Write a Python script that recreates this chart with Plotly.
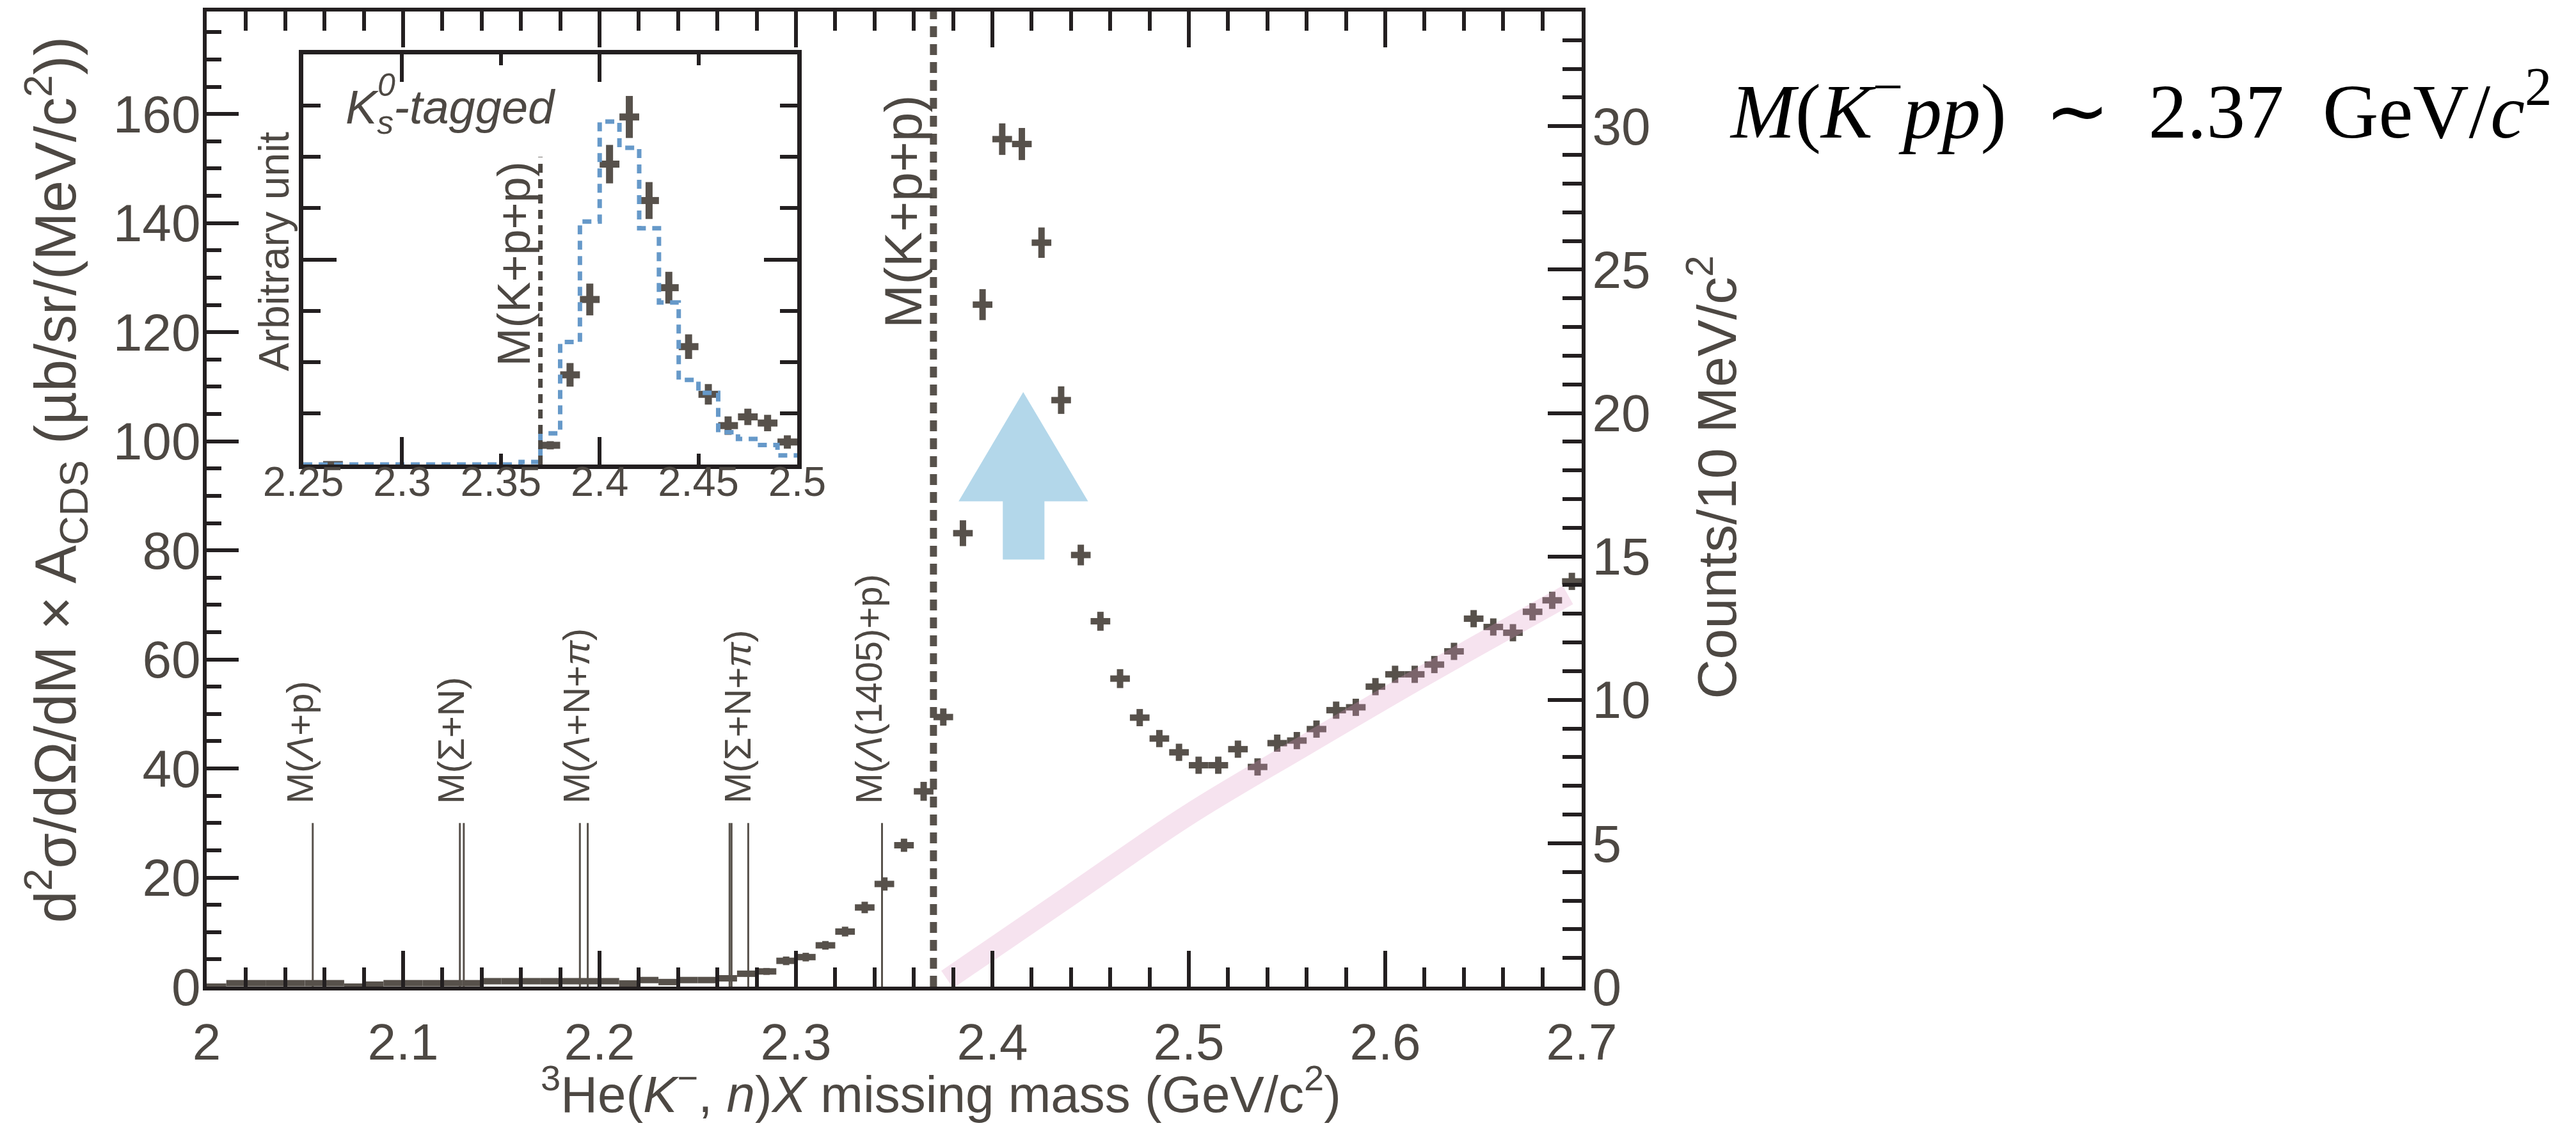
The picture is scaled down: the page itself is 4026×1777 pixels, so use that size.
import plotly.graph_objects as go

FIG_W, FIG_H = 4026, 1777
INK = "#57514b"
TXT = "#4d4843"
AX = "#231f20"
SANS = "Liberation Sans, Arial, Helvetica, sans-serif"
SERIF = "Liberation Serif, Times New Roman, serif"

# ---------------- main spectrum (Counts / 10 MeV/c^2) ----------------
mass = [2.005, 2.015, 2.025, 2.035, 2.045, 2.055, 2.065, 2.075, 2.085, 2.095,
        2.105, 2.115, 2.125, 2.135, 2.145, 2.155, 2.165, 2.175, 2.185, 2.195,
        2.205, 2.215, 2.225, 2.235, 2.245, 2.255, 2.265, 2.275, 2.285, 2.295,
        2.305, 2.315, 2.325, 2.335, 2.345, 2.355, 2.365, 2.375, 2.385, 2.395,
        2.405, 2.415, 2.425, 2.435, 2.445, 2.455, 2.465, 2.475, 2.485, 2.495,
        2.505, 2.515, 2.525, 2.535, 2.545, 2.555, 2.565, 2.575, 2.585, 2.595,
        2.605, 2.615, 2.625, 2.635, 2.645, 2.655, 2.665, 2.675, 2.685, 2.695]
counts = [0.00, 0.12, 0.12, 0.12, 0.12, 0.12, 0.12, 0.00, 0.07, 0.12,
          0.12, 0.12, 0.12, 0.12, 0.19, 0.19, 0.19, 0.19, 0.19, 0.19,
          0.19, 0.11, 0.23, 0.16, 0.23, 0.23, 0.29, 0.45, 0.53, 0.90,
          1.03, 1.44, 1.92, 2.76, 3.58, 4.93, 6.81, 9.40, 15.81, 23.78,
          29.55, 29.38, 25.94, 20.45, 15.05, 12.74, 10.74, 9.38, 8.65, 8.17,
          7.72, 7.72, 8.28, 7.66, 8.49, 8.58, 8.98, 9.64, 9.74, 10.46,
          10.89, 10.89, 11.23, 11.69, 12.83, 12.54, 12.34, 13.07, 13.47, 14.13]
counts_err = [0.05, 0.05, 0.05, 0.05, 0.05, 0.05, 0.05, 0.05, 0.05, 0.05,
              0.05, 0.05, 0.05, 0.05, 0.05, 0.05, 0.05, 0.05, 0.05, 0.05,
              0.05, 0.05, 0.08, 0.08, 0.08, 0.08, 0.10, 0.10, 0.12, 0.15,
              0.15, 0.15, 0.17, 0.20, 0.23, 0.23, 0.33, 0.30, 0.45, 0.54,
              0.55, 0.56, 0.53, 0.48, 0.36, 0.33, 0.33, 0.30, 0.30, 0.30,
              0.30, 0.30, 0.30, 0.30, 0.30, 0.30, 0.30, 0.30, 0.30, 0.30,
              0.30, 0.30, 0.30, 0.30, 0.30, 0.30, 0.30, 0.30, 0.30, 0.30]
bin_half = 0.005

# background band (pink)
band_x = [2.377, 2.44, 2.50, 2.56, 2.62, 2.693]
band_y = [0.25, 3.20, 6.00, 8.45, 10.85, 13.66]

# thresholds
kpp_threshold = 2.370
thr_x = [2.054, 2.1289, 2.1309, 2.1900, 2.1940, 2.2662, 2.2672, 2.2757, 2.3438]
thr_height = 30
thr_labels = ["M(<i>Λ</i>+p)", "M(Σ+N)", "M(<i>Λ</i>+N+<i>π</i>)",
              "M(Σ+N+<i>π</i>)", "M(<i>Λ</i>(1405)+p)"]
thr_label_x = [2.0472, 2.1244, 2.1879, 2.2704, 2.3371]
thr_label_y = 33.3

# arrow (counts units)
arrow_x = [2.3828, 2.4157, 2.4487, 2.4265, 2.4265, 2.4053, 2.4053]
arrow_y = [16.92, 20.73, 16.92, 16.92, 14.89, 14.89, 16.92]

# axis ticks
main_x_ticks = [2.0, 2.1, 2.2, 2.3, 2.4, 2.5, 2.6, 2.7]
main_x_text = ["2", "2.1", "2.2", "2.3", "2.4", "2.5", "2.6", "2.7"]
left_ticks = [0, 20, 40, 60, 80, 100, 120, 140, 160]
right_ticks = [0, 5, 10, 15, 20, 25, 30]

# ---------------- inset (K0s-tagged) ----------------
inset_mass = [2.265, 2.375, 2.385, 2.395, 2.405, 2.415, 2.425, 2.435, 2.445,
              2.455, 2.465, 2.475, 2.485, 2.495]
inset_val = [0.0, 0.376, 1.75, 3.22, 5.86, 6.78, 5.15, 3.45, 2.30,
             1.37, 0.76, 0.93, 0.81, 0.44]
inset_err = [0.0, 0.08, 0.23, 0.31, 0.375, 0.41, 0.36, 0.31, 0.24,
             0.20, 0.18, 0.16, 0.16, 0.13]
sim_centers = [2.255, 2.265, 2.275, 2.285, 2.295, 2.305, 2.315, 2.325, 2.335,
               2.345, 2.355, 2.365, 2.375, 2.385, 2.395, 2.405, 2.415, 2.425,
               2.435, 2.445, 2.455, 2.465, 2.475, 2.485, 2.495]
sim_vals = [0, 0, 0, 0, 0, 0, 0, 0, 0, 0, 0, 0.05, 0.61, 2.39, 4.74, 6.69, 6.18,
            4.61, 3.16, 1.65, 1.40, 0.63, 0.50, 0.38, 0.18]
inset_x_ticks = [2.25, 2.3, 2.35, 2.4, 2.45, 2.5]
inset_x_text = ["2.25", "2.3", "2.35", "2.4", "2.45", "2.5"]
inset_x_long = [2.3, 2.4, 2.5]

sim_x = [c - bin_half for c in sim_centers] + [sim_centers[-1] + bin_half]
sim_y = sim_vals + [sim_vals[-1]]

fig = go.Figure()

fig.add_trace(go.Scatter(
    x=mass, y=counts, xaxis="x", yaxis="y2", mode="markers",
    marker=dict(size=1, color="rgba(0,0,0,0)"),
    error_y=dict(type="data", array=counts_err, color=INK, thickness=10, width=0),
    error_x=dict(type="constant", value=bin_half, color=INK, thickness=10, width=0),
    showlegend=False, hoverinfo="skip"))

fig.add_trace(go.Scatter(
    x=band_x, y=band_y, xaxis="x", yaxis="y2", mode="lines",
    line=dict(color="rgba(222,151,195,0.27)", width=33, shape="spline"),
    showlegend=False, hoverinfo="skip"))

fig.add_trace(go.Scatter(
    x=sim_x, y=sim_y, xaxis="x4", yaxis="y3", mode="lines",
    line=dict(color="#6699c9", width=7, shape="hv", dash="14px,10px"),
    showlegend=False, hoverinfo="skip"))

fig.add_trace(go.Scatter(
    x=inset_mass, y=inset_val, xaxis="x3", yaxis="y3", mode="markers",
    marker=dict(size=1, color="rgba(0,0,0,0)"),
    error_y=dict(type="data", array=inset_err, color=INK, thickness=11, width=0),
    error_x=dict(type="constant", value=bin_half, color=INK, thickness=11, width=0),
    showlegend=False, hoverinfo="skip"))

shapes = []
shapes.append(dict(type="line", xref="x", yref="paper", x0=kpp_threshold, x1=kpp_threshold,
                   y0=0, y1=1, line=dict(color=INK, width=11, dash="17px,11px")))
for tx in thr_x:
    shapes.append(dict(type="line", xref="x", yref="y", x0=tx, x1=tx, y0=0, y1=thr_height,
                       line=dict(color=INK, width=3)))
shapes.append(dict(type="line", xref="x3", yref="y3", x0=kpp_threshold, x1=kpp_threshold,
                   y0=0, y1=6, line=dict(color="#4d4843", width=7, dash="14px,10px")))
path = "M " + " L ".join(f"{ax},{ay}" for ax, ay in zip(arrow_x, arrow_y)) + " Z"
shapes.append(dict(type="path", xref="x", yref="y2", path=path,
                   fillcolor="#b3d7ea", line=dict(width=0)))

NB = "\u00a0"
annotations = []
annotations.append(dict(text="M(K+p+p)", x=kpp_threshold, xref="x", y=0.916, yref="paper",
                        xanchor="right", yanchor="top", textangle=-90, showarrow=False,
                        font=dict(family=SANS, size=82, color=TXT)))
for lab, lx in zip(thr_labels, thr_label_x):
    annotations.append(dict(text=lab, x=lx, xref="x", y=thr_label_y, yref="y",
                            xanchor="center", yanchor="bottom", textangle=-90, showarrow=False,
                            font=dict(family=SANS, size=58, color=TXT)))
annotations.append(dict(text="M(K+p+p)", x=kpp_threshold, xref="x3", y=5.93, yref="y3",
                        xanchor="right", yanchor="top", textangle=-90, showarrow=False,
                        font=dict(family=SANS, size=72, color=TXT)))
annotations.append(dict(text="<i>K<sub>s</sub>-tagged</i>", x=0.083, xref="x3 domain",
                        y=0.8625, yref="y3 domain", xanchor="left", yanchor="middle",
                        showarrow=False, font=dict(family=SANS, size=74, color=TXT)))
annotations.append(dict(text="<i>0</i>", x=0.168, xref="x3 domain",
                        y=0.925, yref="y3 domain", xanchor="center", yanchor="middle",
                        showarrow=False, font=dict(family=SANS, size=50, color=TXT)))
annotations.append(dict(text="Arbitrary unit", x=0.0489, xref="paper", y=0.754, yref="paper",
                        xanchor="center", yanchor="middle", textangle=-90, showarrow=False,
                        font=dict(family=SANS, size=66, color=TXT)))
annotations.append(dict(text="d<sup>2</sup>σ/dΩ/dM × A<sub>CDS</sub> (µb/sr/(MeV/c<sup>2</sup>))",
                        x=-0.1098, xref="paper", y=0.52, yref="paper",
                        xanchor="center", yanchor="middle", textangle=-90, showarrow=False,
                        font=dict(family=SANS, size=90, color=TXT)))
annotations.append(dict(text="<sup>3</sup>He(<i>K</i><sup>−</sup>, <i>n</i>)<i>X</i> missing mass (GeV/c<sup>2</sup>)",
                        x=0.534, xref="paper", y=-0.1064, yref="paper",
                        xanchor="center", yanchor="middle", showarrow=False,
                        font=dict(family=SANS, size=80, color=TXT)))
annotations.append(dict(text="Counts/10 MeV/c<sup>2</sup>", x=1.0954, xref="paper",
                        y=0.522, yref="paper", xanchor="center", yanchor="middle",
                        textangle=-90, showarrow=False,
                        font=dict(family=SANS, size=86, color=TXT)))
annotations.append(dict(text=f"<i>M</i>(<i>K</i><sup>−</sup><i>pp</i>){NB}{NB}∼{NB}{NB}2.37{NB}{NB}GeV/<i>c</i><sup>2</sup>",
                        x=1.1066, xref="paper", y=0.9035, yref="paper",
                        xanchor="left", yanchor="middle", showarrow=False,
                        font=dict(family=SERIF, size=121, color="#000000")))

fig.update_layout(
    width=FIG_W, height=FIG_H,
    margin=dict(l=323, r=FIG_W - 2472, t=18, b=FIG_H - 1542, pad=0),
    paper_bgcolor="white", plot_bgcolor="white",
    showlegend=False,
    shapes=shapes, annotations=annotations,
    xaxis=dict(domain=[0, 1], anchor="y", range=[2.0, 2.7],
               tickmode="array", tickvals=main_x_ticks, ticktext=main_x_text,
               ticks="inside", ticklen=56, tickwidth=6, tickcolor=AX,
               minor=dict(dtick=0.02, tick0=2.0, ticks="inside", ticklen=30,
                          tickwidth=6, tickcolor=AX, showgrid=False),
               showline=True, linewidth=6, linecolor=AX, mirror="ticks",
               showgrid=False, zeroline=False, ticklabelstandoff=12,
               tickfont=dict(family=SANS, size=80, color=TXT)),
    yaxis=dict(domain=[0, 1], anchor="x", range=[0, 178.8],
               tickmode="array", tickvals=left_ticks,
               ticks="inside", ticklen=50, tickwidth=6, tickcolor=AX,
               minor=dict(dtick=5, tick0=0, ticks="inside", ticklen=23,
                          tickwidth=6, tickcolor=AX, showgrid=False),
               showline=True, linewidth=6, linecolor=AX, mirror=False,
               showgrid=False, zeroline=False, ticklabelstandoff=-13,
               tickfont=dict(family=SANS, size=82, color=TXT)),
    yaxis2=dict(overlaying="y", side="right", anchor="x", range=[0, 34.0],
                tickmode="array", tickvals=right_ticks,
                ticks="inside", ticklen=53, tickwidth=6, tickcolor=AX,
                minor=dict(dtick=1, tick0=0, ticks="inside", ticklen=30,
                           tickwidth=6, tickcolor=AX, showgrid=False),
                showline=True, linewidth=6, linecolor=AX,
                showgrid=False, zeroline=False, ticklabelstandoff=-6,
                tickfont=dict(family=SANS, size=82, color=TXT)),
    xaxis3=dict(domain=[0.0703, 0.4295], anchor="y3", range=[2.25, 2.5],
                tickmode="array", tickvals=inset_x_ticks, ticktext=inset_x_text,
                ticks="inside", ticklen=17, tickwidth=6, tickcolor=AX,
                showline=True, linewidth=7, linecolor=AX, mirror="ticks",
                showgrid=False, zeroline=False, ticklabelstandoff=-36,
                tickfont=dict(family=SANS, size=65, color=TXT)),
    xaxis4=dict(overlaying="x3", anchor="y3", range=[2.25, 2.5],
                tickmode="array", tickvals=inset_x_long, showticklabels=False,
                ticks="inside", ticklen=43, tickwidth=6, tickcolor=AX,
                showline=False, mirror="ticks",
                showgrid=False, zeroline=False),
    yaxis3=dict(domain=[0.5354, 0.956], anchor="x3", range=[0, 8],
                tickmode="array", tickvals=[0, 4, 8], showticklabels=False,
                ticks="inside", ticklen=52, tickwidth=6, tickcolor=AX,
                minor=dict(dtick=1, tick0=0, ticks="inside", ticklen=27,
                           tickwidth=6, tickcolor=AX, showgrid=False),
                showline=True, linewidth=7, linecolor=AX, mirror="ticks",
                showgrid=False, zeroline=False),
)

fig.write_html("out.html", config={"displayModeBar": False},
               post_script="document.body.style.margin='0';")
